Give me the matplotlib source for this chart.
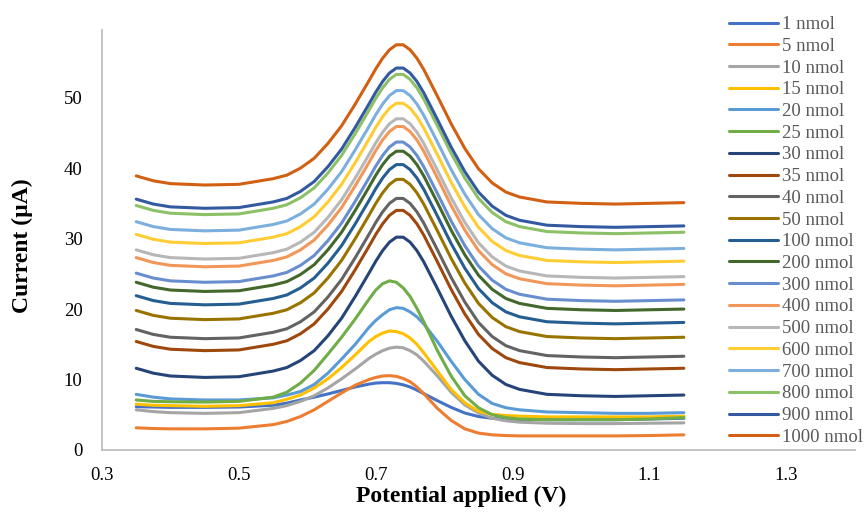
import matplotlib.pyplot as plt

plt.rcParams["font.family"] = ["Liberation Serif", "DejaVu Serif"]

potential = [0.35, 0.375, 0.40, 0.45, 0.50, 0.55, 0.57, 0.59, 0.61, 0.63,
             0.65, 0.67, 0.69, 0.70, 0.71, 0.72, 0.73, 0.74, 0.75, 0.76,
             0.77, 0.79, 0.81, 0.83, 0.85, 0.87, 0.89, 0.91, 0.95, 1.00,
             1.05, 1.10, 1.15]

labels = ["1 nmol", "5 nmol", "10 nmol", "15 nmol", "20 nmol", "25 nmol",
          "30 nmol", "35 nmol", "40 nmol", "50 nmol", "100 nmol", "200 nmol",
          "300 nmol", "400 nmol", "500 nmol", "600 nmol", "700 nmol",
          "800 nmol", "900 nmol", "1000 nmol"]

i_1 = [6.15, 6.1, 6.05, 6.05, 6.1, 6.35, 6.65, 7.1, 7.5, 7.95, 8.45, 8.95, 9.35, 9.5, 9.55, 9.55, 9.45,
       9.25, 8.95, 8.5, 8.0, 7.0, 6.05, 5.25, 4.75, 4.5, 4.4, 4.35, 4.3, 4.3, 4.3, 4.4, 4.5]
i_5 = [3.15, 3.05, 3.0, 3.0, 3.1, 3.6, 4.05, 4.75, 5.7, 6.9, 8.1, 9.2, 10.0, 10.3, 10.5, 10.55, 10.45,
       10.15, 9.7, 8.95, 8.0, 5.9, 4.2, 3.0, 2.4, 2.15, 2.05, 2.0, 2.0, 2.0, 2.0, 2.05, 2.15]
i_10 = [5.7, 5.45, 5.3, 5.2, 5.3, 5.9, 6.3, 6.9, 7.7, 8.8, 10.1, 11.5, 13.0, 13.6, 14.1, 14.45, 14.6,
        14.5, 14.1, 13.5, 12.6, 10.5, 8.2, 6.4, 5.25, 4.5, 4.15, 3.95, 3.8, 3.75, 3.75, 3.8, 3.85]
i_15 = [6.5, 6.35, 6.3, 6.2, 6.3, 6.7, 7.2, 7.8, 8.8, 10.1, 11.7, 13.5, 15.4, 16.1, 16.6, 16.9, 16.8,
        16.5, 15.9, 15.0, 13.8, 11.2, 8.6, 6.7, 5.5, 5.05, 4.9, 4.8, 4.7, 4.7, 4.7, 4.7, 4.8]
i_20 = [7.9, 7.5, 7.25, 7.1, 7.1, 7.4, 7.8, 8.3, 9.3, 10.9, 12.9, 15.0, 17.4, 18.4, 19.2, 19.9, 20.2,
        20.1, 19.6, 18.9, 17.9, 15.4, 12.6, 10.0, 7.9, 6.6, 6.0, 5.7, 5.4, 5.3, 5.2, 5.2, 5.3]
i_25 = [7.1, 6.9, 6.85, 6.8, 6.9, 7.5, 8.2, 9.5, 11.3, 13.6, 16.0, 18.6, 21.4, 22.7, 23.6, 24.0, 23.8,
        23.0, 21.8, 20.1, 18.2, 14.1, 10.5, 7.7, 6.0, 5.0, 4.6, 4.4, 4.3, 4.3, 4.3, 4.4, 4.6]
i_30 = [11.6, 10.9, 10.5, 10.3, 10.4, 11.2, 11.7, 12.7, 14.1, 16.2, 18.7, 21.8, 25.1, 26.8, 28.3, 29.5, 30.2,
        30.2, 29.5, 28.3, 26.7, 22.9, 19.0, 15.5, 12.6, 10.6, 9.3, 8.6, 7.9, 7.7, 7.6, 7.7, 7.8]
i_35 = [15.4, 14.7, 14.3, 14.1, 14.2, 15.0, 15.5, 16.5, 17.9, 20.0, 22.5, 25.6, 28.9, 30.6, 32.1, 33.3, 34.0,
        34.0, 33.3, 32.1, 30.5, 26.7, 22.8, 19.3, 16.4, 14.4, 13.1, 12.4, 11.7, 11.5, 11.4, 11.5, 11.6]
i_40 = [17.1, 16.4, 16.0, 15.8, 15.9, 16.7, 17.2, 18.2, 19.6, 21.7, 24.2, 27.3, 30.6, 32.3, 33.8, 35.0, 35.7,
        35.7, 35.0, 33.8, 32.2, 28.4, 24.5, 21.0, 18.1, 16.1, 14.8, 14.1, 13.4, 13.2, 13.1, 13.2, 13.3]
i_50 = [19.8, 19.1, 18.7, 18.5, 18.6, 19.4, 19.9, 20.9, 22.3, 24.4, 26.9, 30.0, 33.3, 35.0, 36.5, 37.7, 38.4,
        38.4, 37.7, 36.5, 34.9, 31.1, 27.2, 23.7, 20.8, 18.8, 17.5, 16.8, 16.1, 15.9, 15.8, 15.9, 16.0]
i_100 = [21.9, 21.2, 20.8, 20.6, 20.7, 21.5, 22.0, 23.0, 24.4, 26.5, 29.0, 32.1, 35.4, 37.1, 38.6, 39.8, 40.5,
         40.5, 39.8, 38.6, 37.0, 33.2, 29.3, 25.8, 22.9, 20.9, 19.6, 18.9, 18.2, 18.0, 17.9, 18.0, 18.1]
i_200 = [23.8, 23.1, 22.7, 22.5, 22.6, 23.4, 23.9, 24.9, 26.3, 28.4, 30.9, 34.0, 37.3, 39.0, 40.5, 41.7, 42.4,
         42.4, 41.7, 40.5, 38.9, 35.1, 31.2, 27.7, 24.8, 22.8, 21.5, 20.8, 20.1, 19.9, 19.8, 19.9, 20.0]
i_300 = [25.1, 24.4, 24.0, 23.8, 23.9, 24.7, 25.2, 26.2, 27.6, 29.7, 32.2, 35.3, 38.6, 40.3, 41.8, 43.0, 43.7,
         43.7, 43.0, 41.8, 40.2, 36.4, 32.5, 29.0, 26.1, 24.1, 22.8, 22.1, 21.4, 21.2, 21.1, 21.2, 21.3]
i_400 = [27.3, 26.6, 26.2, 26.0, 26.1, 26.9, 27.4, 28.4, 29.8, 31.9, 34.4, 37.5, 40.8, 42.5, 44.0, 45.2, 45.9,
         45.9, 45.2, 44.0, 42.4, 38.6, 34.7, 31.2, 28.3, 26.3, 25.0, 24.3, 23.6, 23.4, 23.3, 23.4, 23.5]
i_500 = [28.4, 27.7, 27.3, 27.1, 27.2, 28.0, 28.5, 29.5, 30.9, 33.0, 35.5, 38.6, 41.9, 43.6, 45.1, 46.3, 47.0,
         47.0, 46.3, 45.1, 43.5, 39.7, 35.8, 32.3, 29.4, 27.4, 26.1, 25.4, 24.7, 24.5, 24.4, 24.5, 24.6]
i_600 = [30.6, 29.9, 29.5, 29.3, 29.4, 30.2, 30.7, 31.7, 33.1, 35.2, 37.7, 40.8, 44.1, 45.8, 47.3, 48.5, 49.2,
         49.2, 48.5, 47.3, 45.7, 41.9, 38.0, 34.5, 31.6, 29.6, 28.3, 27.6, 26.9, 26.7, 26.6, 26.7, 26.8]
i_700 = [32.4, 31.7, 31.3, 31.1, 31.2, 32.0, 32.5, 33.5, 34.9, 37.0, 39.5, 42.6, 45.9, 47.6, 49.1, 50.3, 51.0,
         51.0, 50.3, 49.1, 47.5, 43.7, 39.8, 36.3, 33.4, 31.4, 30.1, 29.4, 28.7, 28.5, 28.4, 28.5, 28.6]
i_800 = [34.7, 34.0, 33.6, 33.4, 33.5, 34.3, 34.8, 35.8, 37.2, 39.3, 41.8, 44.9, 48.2, 49.9, 51.4, 52.6, 53.3,
         53.3, 52.6, 51.4, 49.8, 46.0, 42.1, 38.6, 35.7, 33.7, 32.4, 31.7, 31.0, 30.8, 30.7, 30.8, 30.9]
i_900 = [35.6, 34.9, 34.5, 34.3, 34.4, 35.2, 35.7, 36.7, 38.1, 40.2, 42.7, 45.8, 49.1, 50.8, 52.3, 53.5, 54.2,
         54.2, 53.5, 52.3, 50.7, 46.9, 43.0, 39.5, 36.6, 34.6, 33.3, 32.6, 31.9, 31.7, 31.6, 31.7, 31.8]
i_1000 = [38.9, 38.2, 37.8, 37.6, 37.7, 38.5, 39.0, 40.0, 41.4, 43.5, 46.0, 49.1, 52.4, 54.1, 55.6, 56.8, 57.5,
          57.5, 56.8, 55.6, 54.0, 50.2, 46.3, 42.8, 39.9, 37.9, 36.6, 35.9, 35.2, 35.0, 34.9, 35.0, 35.1]

currents = [i_1, i_5, i_10, i_15, i_20, i_25, i_30, i_35, i_40, i_50,
            i_100, i_200, i_300, i_400, i_500, i_600, i_700, i_800, i_900, i_1000]

colors = ["#4472C4", "#ED7D31", "#A5A5A5", "#FFC000", "#5B9BD5", "#70AD47",
          "#264478", "#9E480E", "#636363", "#997300", "#255E91", "#43682B",
          "#698ED0", "#F1975A", "#B7B7B7", "#FFCD33", "#7CAFDD", "#8CC168",
          "#335AA1", "#D26012"]

fig = plt.figure(figsize=(8.67, 5.12), dpi=100)
ax = fig.add_axes([102 / 867, 62 / 512, 753 / 867, 420 / 512])

for values, label, color in zip(currents, labels, colors):
    ax.plot(potential, values, color=color, lw=2.2, label=label,
            solid_capstyle="round", solid_joinstyle="round")

ax.set_xlim(0.3, 1.4)
ax.set_ylim(0, 59.6)
ax.set_xticks([0.3, 0.5, 0.7, 0.9, 1.1, 1.3])
ax.set_xticklabels(["0.3", "0.5", "0.7", "0.9", "1.1", "1.3"])
ax.set_yticks([0, 10, 20, 30, 40, 50])

for side in ["top", "right"]:
    ax.spines[side].set_visible(False)
for side in ["left", "bottom"]:
    ax.spines[side].set_color("#BFBFBF")
    ax.spines[side].set_linewidth(1.3)

ax.tick_params(axis="both", length=0, labelsize=13.5, colors="black")
ax.tick_params(axis="x", pad=12)
ax.tick_params(axis="y", pad=14)

fig.text(461 / 867, 1 - 496 / 512, "Potential applied (V)",
         ha="center", va="center", fontsize=17, fontweight="bold")
fig.text(22 / 867, 1 - 246 / 512, "Current (µA)", rotation=90,
         ha="center", va="center", fontsize=17, fontweight="bold")

ax.legend(loc="upper left", bbox_to_anchor=(729 / 867, 1 - 16 / 512),
          bbox_transform=fig.transFigure, frameon=False, fontsize=13.5,
          handlelength=2.6, handletextpad=0.25, labelspacing=0.245,
          borderpad=0, borderaxespad=0, labelcolor="#595959")

fig.savefig("out.png", dpi=100)
